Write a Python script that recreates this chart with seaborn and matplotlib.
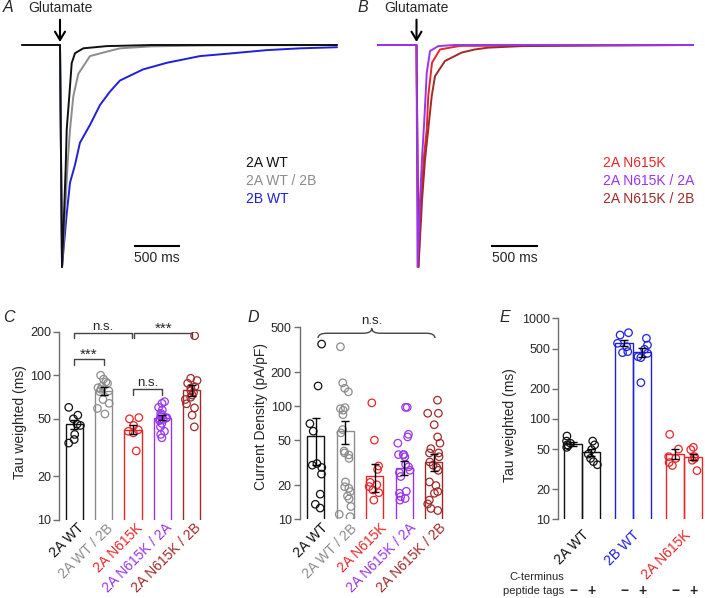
import matplotlib
matplotlib.use('Agg')
import matplotlib.pyplot as plt
import matplotlib.transforms as mtransforms
from matplotlib.collections import PathCollection
from matplotlib.patches import PathPatch
from matplotlib.path import Path
from matplotlib.ticker import NullLocator
import numpy as np
import pandas as pd
import seaborn as sns

W, H = 705, 598

BLACK = '#111111'
GRAY = '#8c8c8c'
BLUE = '#1f1fdc'
RED = '#e8262a'
PURPLE = '#9a34ee'
BROWN = '#a02a2a'
AXIS = '#6e6e6e'

# ---- A / B: example currents (time from glutamate in ms, current / peak) ----
a_wt_t = [-413, -5, 0, 22, 36, 62, 73, 101, 127, 163, 253, 508, 1000, 3011]
a_wt_i = [0, 0, 0, -1.0, -0.85, -0.55, -0.38, -0.23, -0.082, -0.037, -0.015, -0.005, 0, 0]
a_wt2b_t = [-413, -5, 0, 22, 40, 62, 85, 109, 145, 199, 326, 508, 652, 1000, 1600, 3011]
a_wt2b_i = [0, 0, 0, -1.0, -0.88, -0.70, -0.52, -0.38, -0.23, -0.13, -0.05, -0.03, -0.015, -0.006, -0.002, 0]
a_2b_t = [-413, -5, 0, 22, 43, 73, 109, 163, 217, 326, 435, 543, 652, 902, 1163, 1522, 1880, 2250, 2609, 3011]
a_2b_i = [0, 0, 0, -1.0, -0.90, -0.76, -0.62, -0.54, -0.44, -0.36, -0.27, -0.21, -0.16, -0.11, -0.08, -0.05, -0.037, -0.023,
          -0.015, -0.01]

b_mut_t = [-410, -5, 0, 21, 48, 80, 109, 125, 165, 250, 463, 2942]
b_mut_i = [0, 0, 0, -1.0, -0.70, -0.50, -0.38, -0.23, -0.08, -0.02, -0.004, 0]
b_mut2a_t = [-410, -5, 0, 11, 37, 60, 83, 109, 144, 232, 400, 2942]
b_mut2a_i = [0, 0, 0, -1.0, -0.70, -0.50, -0.34, -0.125, -0.027, -0.005, 0, 0]
b_mut2b_t = [-410, -5, 0, 21, 59, 90, 125, 162, 197, 303, 481, 622, 761, 1123, 1953, 2942]
b_mut2b_i = [0, 0, 0, -1.0, -0.70, -0.52, -0.38, -0.23, -0.14, -0.072, -0.034, -0.02, -0.012, -0.005, -0.002, 0]

# ---- C: tau weighted (ms) ----
c_groups = ['2A WT', '2A WT / 2B', '2A N615K', '2A N615K / 2A', '2A N615K / 2B']
c_colors = [BLACK, GRAY, RED, PURPLE, BROWN]
c_mean = [46, 78, 42, 51, 79]
c_sem = [3.3, 5, 3, 2, 7]
c_points = [
    [60, 53, 50, 46, 45, 39, 36, 34],
    [100, 94, 90, 88, 84, 82, 80, 78, 77, 68, 64, 59, 54],
    [51, 50, 45, 42, 41, 40, 30],
    [65.7, 64, 60, 57.5, 54.6, 53, 52, 51, 50.5, 49.8, 49.5, 48.6, 46.5, 44, 41, 39, 37],
    [187.6, 95.3, 92, 88, 83.3, 81.6, 78, 76, 73, 70.5, 68, 63.5, 59.5, 53, 44],
]

# ---- D: current density (pA/pF) ----
d_mean = [54, 60, 24, 28.6, 32]
d_sem = [24, 13.5, 6.5, 4.3, 5.6]
d_points = [
    [355, 151, 70, 60, 31, 30, 28.6, 25, 16.6, 13.5, 12.5],
    [336, 161, 144, 134, 97, 95, 92, 84, 62, 58, 40, 38.5, 37, 34.5, 21.3, 19.3, 18.7, 17.5, 16, 15.1, 12.9, 11,
     10.5],
    [107, 50, 29.5, 27.5, 21.1, 20.1, 19.4, 18.1, 17.1, 14.7],
    [97.7, 97.7, 56.3, 53.4, 47, 37.2, 37.2, 37.2, 35.6, 30.5, 29, 27, 25.7, 23.8, 17.6, 16.9, 15.8, 15.2, 14.7],
    [113, 86.5, 86.5, 68.5, 53.4, 47, 42, 38.5, 38.5, 35.6, 32, 30, 28.6, 27, 21.3, 19.8, 17.5, 16.9, 14.7, 13.6,
     12.4, 11.9],
]

# ---- E: tau weighted with / without C-terminal tags ----
e_genotypes = ['2A WT', '2B WT', '2A N615K']
e_colors = [BLACK, BLUE, RED]
e_tags = ['\u2212', '+']
e_mean = {'\u2212': [56, 571, 44.7], '+': [46.4, 459, 42]}
e_sem = {'\u2212': [2.2, 40, 5], '+': [3.3, 45, 3]}
e_points = {
    '\u2212': [[67.4, 60, 57, 55, 54, 52], [719, 682, 564, 522, 466, 455], [70, 50, 42, 40.4, 36.7, 34.3]],
    '+': [[60, 55, 49.3, 44.5, 40.4, 37.5, 34.9], [632, 542, 491, 448, 415, 406, 229], [52, 49.3, 42, 40.4, 38.7, 30.5]],
}


def px_axes(fig, left, top, right, bottom):
    return fig.add_axes([left / W, 1 - bottom / H, (right - left) / W, (bottom - top) / H])


def px_text(fig, x, y, s, **kw):
    fig.text(x / W, 1 - y / H, s, **kw)


def trace_panel(ax, traces, legend_order, palette, ax_left, x0, msp, legend_x, bar_x):
    # traces: list of (name, t, i), drawn in list order (last on top)
    rows = []
    for name, t, i in traces:
        rows.append(pd.DataFrame({'t': t, 'I': i, 'trace': name}))
    df = pd.concat(rows, ignore_index=True)
    sns.lineplot(data=df, x='t', y='I', hue='trace', hue_order=[n for n, _, _ in traces], palette=palette,
                 estimator=None, sort=False, lw=1.4, legend=False, ax=ax)

    def tx(px):
        return (px - x0) * msp

    def iy(py):
        return -(py - 45) / 222

    ax.set_xlim(tx(ax_left), tx(ax_left + 320))
    ax.set_ylim(iy(272), iy(40))
    ax.axis('off')

    for k, name in enumerate(legend_order):
        ax.text(tx(legend_x), iy(163 + 18 * k), name, color=palette[name], fontsize=10, ha='left', va='center')

    # scale bar
    b0 = tx(bar_x)
    ax.plot([b0, b0 + 500], [iy(246), iy(246)], color='k', lw=1.5, solid_capstyle='butt')
    ax.text(b0 + 250, iy(251), '500 ms', ha='center', va='top', fontsize=10)

    ax.annotate('Glutamate', xy=(0, iy(42)), xytext=(0, iy(8)), ha='center', va='center', fontsize=10,
                annotation_clip=False,
                arrowprops=dict(arrowstyle='->,head_length=0.5,head_width=0.3', lw=1.5, color='k',
                                mutation_scale=12, shrinkA=1, shrinkB=0))


def style_log_axis(ax, ticks, ylabel, label_x, label_y):
    ax.set_yscale('log')
    ax.set_ylim(ticks[0], ticks[-1])
    ax.set_yticks(ticks, labels=[str(t) for t in ticks])
    ax.yaxis.set_minor_locator(NullLocator())
    sns.despine(ax=ax, bottom=True)
    ax.spines['left'].set_color(AXIS)
    ax.spines['left'].set_linewidth(1.0)
    ax.tick_params(axis='y', length=4, width=1, color=AXIS, labelsize=9, pad=2)
    ax.tick_params(axis='x', length=0, labelbottom=False)
    ax.set_xlabel('')
    ax.set_ylabel(ylabel, fontsize=10)
    ax.yaxis.set_label_coords(label_x, label_y)


def open_markers(ax, color_for):
    for coll in ax.collections:
        if isinstance(coll, PathCollection) and len(coll.get_offsets()):
            col = color_for(coll)
            coll.set_facecolor('none')
            coll.set_edgecolor(col)


def slanted_labels(fig, ax, xs, labels, colors, dx, dy):
    trans = mtransforms.blended_transform_factory(ax.transData, ax.transAxes)
    trans = trans + mtransforms.ScaledTranslation(dx / 100, -dy / 100, fig.dpi_scale_trans)
    for x, lab, col in zip(xs, labels, colors):
        ax.text(x, 0, lab, color=col, rotation=45, rotation_mode='anchor', ha='right', va='top', fontsize=10,
                transform=trans)


def group_bar_panel(ax, groups, colors, means, sems, points):
    pal = dict(zip(groups, colors))
    mean_df = pd.DataFrame({'group': groups, 'value': means})
    sns.barplot(data=mean_df, x='group', y='value', hue='group', order=groups, hue_order=groups, palette=pal,
                fill=False, width=0.58, linewidth=1.0, errorbar=None, legend=False, ax=ax)
    pts = pd.concat([pd.DataFrame({'group': g, 'value': v}) for g, v in zip(groups, points)], ignore_index=True)
    sns.stripplot(data=pts, x='group', y='value', hue='group', order=groups, hue_order=groups, palette=pal,
                  jitter=0.22, size=5.4, linewidth=0.9, legend=False, ax=ax)
    open_markers(ax, lambda c: colors[int(round(np.mean(c.get_offsets()[:, 0])))])
    ax.errorbar(range(len(groups)), means, yerr=sems, fmt='none', ecolor='k', elinewidth=1, capsize=3,
                capthick=1, zorder=5)


def main() -> None:
    np.random.seed(7)
    sns.set_style('ticks')
    plt.rcParams['font.family'] = ['Liberation Sans', 'DejaVu Sans']

    fig = plt.figure(figsize=(W / 100, H / 100), dpi=100)

    # ---------------- A ----------------
    ax_a = px_axes(fig, 20, 40, 340, 272)
    trace_panel(ax_a, [('2B WT', a_2b_t, a_2b_i), ('2A WT / 2B', a_wt2b_t, a_wt2b_i), ('2A WT', a_wt_t, a_wt_i)],
                ['2A WT', '2A WT / 2B', '2B WT'],
                {'2A WT': BLACK, '2A WT / 2B': GRAY, '2B WT': BLUE}, 20, 60, 10.87, 246, 134)

    # ---------------- B ----------------
    ax_b = px_axes(fig, 376, 40, 696, 272)
    trace_panel(ax_b, [('2A N615K', b_mut_t, b_mut_i), ('2A N615K / 2B', b_mut2b_t, b_mut2b_i),
                       ('2A N615K / 2A', b_mut2a_t, b_mut2a_i)],
                ['2A N615K', '2A N615K / 2A', '2A N615K / 2B'],
                {'2A N615K': RED, '2A N615K / 2A': PURPLE, '2A N615K / 2B': BROWN}, 376, 416.5, 10.64, 603, 491)

    # ---------------- C ----------------
    ax_c = px_axes(fig, 59.3, 331.7, 205, 520)
    group_bar_panel(ax_c, c_groups, c_colors, c_mean, c_sem, c_points)
    style_log_axis(ax_c, [10, 20, 50, 100, 200], 'Tau weighted (ms)', -0.224, 0.518)
    ax_c.set_xlim(-0.507, 4.449)
    slanted_labels(fig, ax_c, range(5), c_groups, c_colors, 2.3, 1)

    tr = mtransforms.blended_transform_factory(ax_c.transData, ax_c.transAxes)
    off = mtransforms.ScaledTranslation(0, 3 / 100, fig.dpi_scale_trans)
    for (x0, x1, y, tip, txt) in [(0, 1, 0.855, 0.823, '***'), (0, 1.95, 0.995, 0.967, 'n.s.'),
                                  (2.05, 4, 0.995, 0.967, '***'), (2, 3, 0.696, 0.664, 'n.s.')]:
        ax_c.plot([x0, x0, x1, x1], [tip, y, y, tip], color='#444444', lw=1, transform=tr, clip_on=False)
        if txt == '***':
            ax_c.text((x0 + x1) / 2, y, txt, ha='center', va='baseline', fontsize=11, transform=tr)
        else:
            ax_c.text((x0 + x1) / 2, y, txt, ha='center', va='baseline', fontsize=9.5, transform=tr + off)

    # ---------------- D ----------------
    ax_d = px_axes(fig, 300, 327.3, 450, 519)
    group_bar_panel(ax_d, c_groups, c_colors, d_mean, d_sem, d_points)
    style_log_axis(ax_d, [10, 20, 50, 100, 200, 500], 'Current Density (pA/pF)', -0.211, 0.534)
    ax_d.set_xlim(-0.532, 4.55)
    slanted_labels(fig, ax_d, range(5), c_groups, c_colors, 4.8, 2)

    tr = mtransforms.blended_transform_factory(ax_d.transData, ax_d.transAxes)
    x0, x1, xc, ym, yl, yp, r = 0.08, 4.04, 1.9, 0.969, 0.944, 0.994, 0.3
    verts = [(x0, yl), (x0, ym), (x0 + r, ym), (xc - r, ym), (xc, ym), (xc, yp),
             (xc, ym), (xc + r, ym), (x1 - r, ym), (x1, ym), (x1, yl)]
    codes = [Path.MOVETO, Path.CURVE3, Path.CURVE3, Path.LINETO, Path.CURVE3, Path.CURVE3,
             Path.CURVE3, Path.CURVE3, Path.LINETO, Path.CURVE3, Path.CURVE3]
    ax_d.add_patch(PathPatch(Path(verts, codes), fill=False, lw=1, edgecolor='#444444', transform=tr, clip_on=False))
    ax_d.text(xc, 1.0, 'n.s.', ha='center', va='baseline', fontsize=9.5, transform=tr + off)

    # ---------------- E ----------------
    ax_e = px_axes(fig, 558.3, 318.3, 705, 519.3)
    e_df = pd.DataFrame({'genotype': e_genotypes * 2,
                         'tag': [e_tags[0]] * 3 + [e_tags[1]] * 3,
                         'value': e_mean[e_tags[0]] + e_mean[e_tags[1]]})
    sns.barplot(data=e_df, x='genotype', y='value', hue='tag', order=e_genotypes, hue_order=e_tags,
                palette=['k', 'k'], fill=False, width=0.71, gap=0, linewidth=1.0, errorbar=None, legend=False,
                ax=ax_e)
    pts = []
    for tag in e_tags:
        for g, v in zip(e_genotypes, e_points[tag]):
            pts.append(pd.DataFrame({'genotype': g, 'tag': tag, 'value': v}))
    pts = pd.concat(pts, ignore_index=True)
    sns.stripplot(data=pts, x='genotype', y='value', hue='tag', order=e_genotypes, hue_order=e_tags,
                  palette=['k', 'k'], dodge=True, jitter=0.22, size=5.4, linewidth=0.9, legend=False, ax=ax_e)
    open_markers(ax_e, lambda c: e_colors[int(round(np.mean(c.get_offsets()[:, 0])))])

    tr = mtransforms.blended_transform_factory(ax_e.transData, ax_e.transAxes)
    for p in ax_e.patches:
        cx = p.get_x() + p.get_width() / 2
        gi = int(round(cx))
        tag = e_tags[0] if cx < gi else e_tags[1]
        p.set_edgecolor(e_colors[gi])
        ax_e.errorbar(cx, e_mean[tag][gi], yerr=e_sem[tag][gi], fmt='none', ecolor='k', elinewidth=1,
                      capsize=3, capthick=1, zorder=5)
        ax_e.text(cx, -0.357, tag, ha='center', va='center', fontsize=10, fontweight='bold', transform=tr,
                  clip_on=False)

    style_log_axis(ax_e, [10, 20, 50, 100, 200, 500, 1000], 'Tau weighted (ms)', -0.284, 0.469)
    ax_e.set_xlim(-0.47, 2.41)
    slanted_labels(fig, ax_e, range(3), e_genotypes, e_colors, -0.8, 8.7)
    px_text(fig, 564, 577, 'C-terminus', ha='right', va='center', fontsize=8)
    px_text(fig, 564, 591, 'peptide tags', ha='right', va='center', fontsize=8)

    # panel letters
    for lab, x, y in [('A', 3, 8), ('B', 358, 8), ('C', 3, 317), ('D', 247, 317), ('E', 500, 317)]:
        px_text(fig, x, y, lab, ha='left', va='center', fontsize=11.5, fontstyle='italic')

    fig.savefig('out.png', dpi=100)


if __name__ == '__main__':
    main()
